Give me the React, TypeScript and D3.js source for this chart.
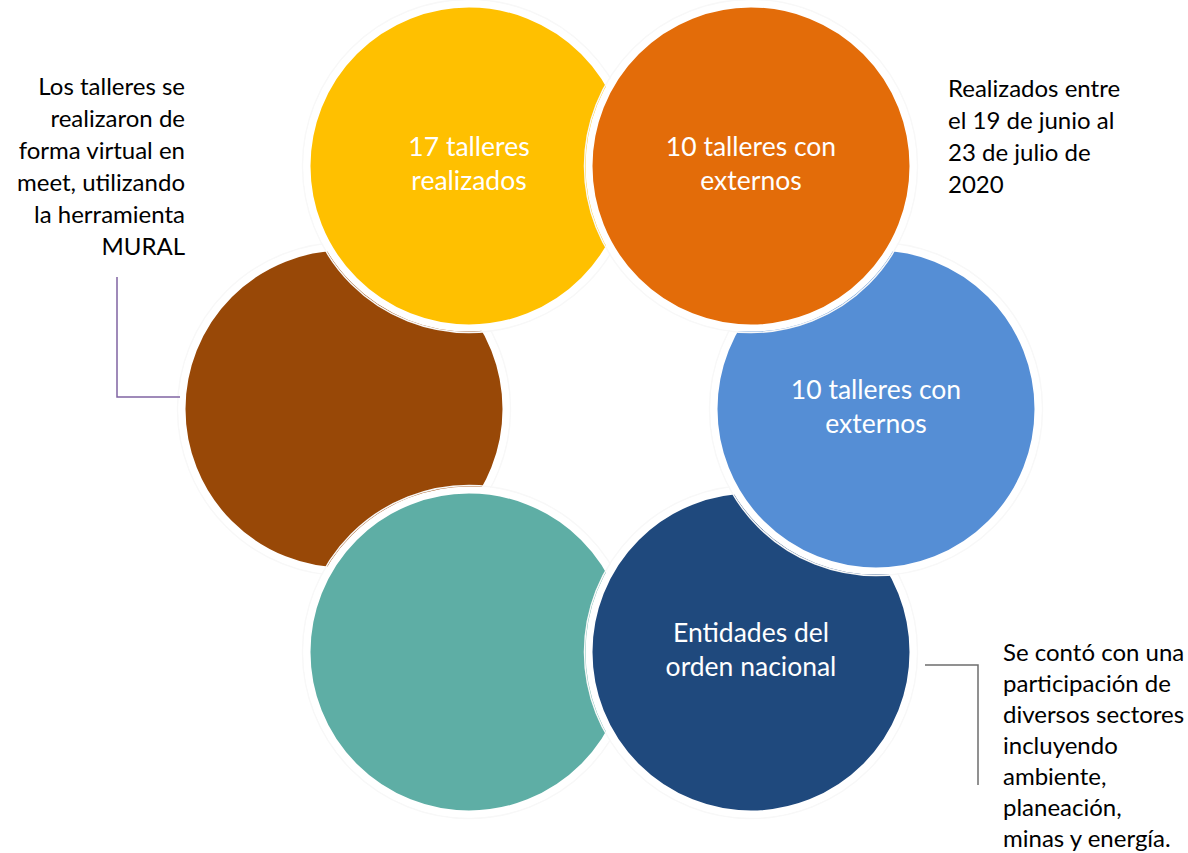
import React from "react";
import * as d3 from "d3";

// ---- data ----
const stepNames = ["talleres", "externos-1", "externos-2", "entidades", "paso-5", "paso-6"];
const stepColors = ["#FFC000", "#E36C09", "#558ED5", "#1F497D", "#5EAEA5", "#984807"];
const stepLabels: string[][] = [
  ["17 talleres", "realizados"],
  ["10 talleres con", "externos"],
  ["10 talleres con", "externos"],
  ["Entidades del", "orden nacional"],
  [],
  [],
];
// drawing order (later on top)
const stackOrder = [5, 4, 3, 2, 0, 1];

const noteLeft = ["Los talleres se", "realizaron de", "forma virtual en", "meet, utilizando", "la herramienta", "MURAL"];
const noteTopRight = ["Realizados entre", "el 19 de junio al", "23 de julio de", "2020"];
const noteBottomRight = [
  "Se contó con una",
  "participación de",
  "diversos sectores",
  "incluyendo",
  "ambiente,",
  "planeación,",
  "minas y energía.",
];

// ---- layout ----
const W = 1188;
const H = 853;
const ring = { cx: 610, cy: 409, dx: 141, dy: 243, side: 266 };
const R = 162;
const FONT = "Lato, 'Open Sans', sans-serif";

function nodePos(i: number): [number, number] {
  // clockwise from top-left
  const angles = [-120, -60, 0, 60, 120, 180];
  const a = (angles[i] * Math.PI) / 180;
  const c = Math.cos(a);
  const s = Math.sin(a);
  if (Math.abs(s) < 1e-6) return [ring.cx + Math.sign(c) * ring.side, ring.cy];
  return [ring.cx + Math.sign(c) * ring.dx, ring.cy + Math.sign(s) * ring.dy];
}

export default function App() {
  const leftLink = d3.path();
  leftLink.moveTo(117, 277);
  leftLink.lineTo(117, 397);
  leftLink.lineTo(180, 397);

  const rightLink = d3.path();
  rightLink.moveTo(925, 665);
  rightLink.lineTo(978, 665);
  rightLink.lineTo(978, 785);

  const lineY = d3.scaleLinear().domain([0, 1]);

  return (
    <svg
      width={W}
      height={H}
      style={{ position: "absolute", left: 0, top: 0, background: "#fff" }}
      fontFamily={FONT}
    >
      {stackOrder.map((i) => {
        const [x, y] = nodePos(i);
        return (
          <g key={stepNames[i]}>
            <circle cx={x} cy={y} r={R + 4.5} fill="none" stroke="#f8f8f8" strokeWidth={1.5} />
            <circle cx={x} cy={y} r={R} fill={stepColors[i]} stroke="#ffffff" strokeWidth={7} />
            {stepLabels[i].map((t, k) => (
              <text
                key={k}
                x={x}
                y={y - 10 + k * 34}
                textAnchor="middle"
                fill="#ffffff"
                fontSize={26.5}
              >
                {t}
              </text>
            ))}
          </g>
        );
      })}

      <path d={leftLink.toString()} fill="none" stroke="#8064A2" strokeWidth={1.5} />
      <path d={rightLink.toString()} fill="none" stroke="#6d6d6d" strokeWidth={1.5} />

      {noteLeft.map((t, k) => {
        lineY.range([95, 127]);
        return (
          <text key={k} x={185} y={lineY(k)} textAnchor="end" fontSize={24} fill="#000">
            {t}
          </text>
        );
      })}
      {noteTopRight.map((t, k) => {
        lineY.range([97, 129]);
        return (
          <text key={k} x={948} y={lineY(k)} fontSize={24} fill="#000">
            {t}
          </text>
        );
      })}
      {noteBottomRight.map((t, k) => {
        lineY.range([661, 692]);
        return (
          <text key={k} x={1003} y={lineY(k)} fontSize={24} fill="#000">
            {t}
          </text>
        );
      })}
    </svg>
  );
}
